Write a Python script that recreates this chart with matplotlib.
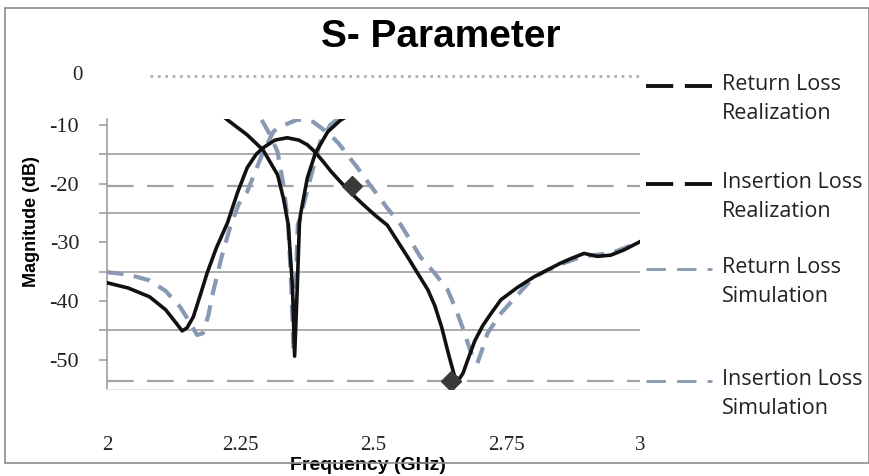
import matplotlib
matplotlib.use("Agg")
import matplotlib.pyplot as plt
from matplotlib.lines import Line2D
from matplotlib.patches import Rectangle

plt.rcParams['axes.unicode_minus'] = False

# ---------------- data ----------------
# Insertion loss, realization (black solid)
il_real_f = [2.00, 2.04, 2.08, 2.11, 2.13, 2.141, 2.15, 2.162, 2.175, 2.188, 2.205, 2.226,
             2.245, 2.263, 2.28, 2.293, 2.315, 2.338, 2.36, 2.376, 2.39, 2.406, 2.42, 2.438,
             2.46, 2.481, 2.503, 2.526, 2.545, 2.564, 2.583, 2.602, 2.615, 2.628, 2.640,
             2.652, 2.660, 2.668, 2.677, 2.69, 2.705, 2.72, 2.739, 2.77, 2.801, 2.85, 2.87,
             2.895, 2.92, 2.945, 2.97, 3.00]
il_real_db = [-36.9, -37.8, -39.3, -41.5, -43.8, -45.1, -44.6, -42.7, -39.0, -35.2, -31.0, -26.7,
              -21.5, -17.3, -15.0, -13.9, -12.6, -12.2, -12.6, -13.4, -14.6, -16.3, -17.9, -19.7,
              -21.8, -23.6, -25.4, -27.1, -29.8, -32.5, -35.3, -38.1, -40.8, -44.5, -48.8,
              -52.8, -53.4, -52.3, -50.0, -46.8, -44.2, -42.2, -39.8, -37.7, -35.9, -33.6, -32.8,
              -31.9, -32.4, -32.2, -31.3, -29.9]

# Return loss, realization (black solid)
rl_real_f = [2.00, 2.10, 2.18, 2.21, 2.231, 2.263, 2.293, 2.320, 2.331, 2.340, 2.348, 2.352,
             2.357, 2.361, 2.363, 2.376, 2.391, 2.414, 2.438, 2.50, 2.60, 2.80, 3.00]
rl_real_db = [-3.0, -4.0, -6.0, -8.0, -9.5, -11.7, -14.3, -18.5, -22.5, -27.0, -37.6, -49.4,
              -37.6, -26.8, -25.3, -19.0, -14.8, -11.2, -9.2, -6.0, -5.0, -4.5, -4.0]

# Insertion loss, simulation (blue-grey dashed)
il_sim_f = [2.00, 2.04, 2.08, 2.11, 2.137, 2.155, 2.169, 2.18, 2.19, 2.199, 2.215, 2.231,
            2.247, 2.263, 2.293, 2.312, 2.32, 2.357, 2.387, 2.419, 2.435, 2.451, 2.47, 2.489,
            2.508, 2.526, 2.551, 2.57, 2.588, 2.615, 2.639, 2.655, 2.669, 2.68, 2.688, 2.695,
            2.703, 2.714, 2.74, 2.767, 2.79, 2.814, 2.85, 2.889, 2.92, 2.945, 2.97, 3.00]
il_sim_db = [-35.1, -35.5, -36.5, -38.3, -41.0, -43.6, -45.8, -45.5, -42.5, -38.5, -32.5, -27.4,
             -23.5, -21.4, -14.6, -11.2, -10.5, -9.1, -9.5, -11.7, -13.2, -15.1, -17.3, -19.7,
             -22.0, -24.2, -27.0, -29.8, -32.5, -35.3, -38.1, -41.5, -45.0, -48.0, -50.0, -50.6,
             -48.5, -45.5, -42.0, -39.3, -37.0, -35.3, -33.8, -32.5, -32.1, -31.9, -31.0, -29.9]

# Return loss, simulation (blue-grey dashed)
rl_sim_f = [2.00, 2.10, 2.20, 2.26, 2.288, 2.306, 2.32, 2.331, 2.340, 2.346, 2.350, 2.354,
            2.358, 2.362, 2.382, 2.40, 2.419, 2.44, 2.50, 2.60, 2.80, 3.00]
rl_sim_db = [-2.0, -3.0, -5.0, -7.5, -8.8, -11.7, -14.6, -20.2, -27.0, -38.0, -48.5, -38.0,
             -27.0, -26.0, -19.0, -12.9, -10.0, -8.5, -6.5, -5.0, -4.5, -4.0]

# Marker / reference levels
marker_f = [2.46, 2.645]
marker_db = [-20.5, -53.7]

x_ticks = [2, 2.25, 2.5, 2.75, 3]
x_tick_labels = ["2", "2.25", "2.5", "2.75", "3"]
y_ticks = [-10, -20, -30, -40, -50]
y_tick_labels = ["-10", "-20", "-30", "-40", "-50"]
grid_levels = [-15, -25, -35, -45]

legend_labels = ["Return Loss\nRealization", "Insertion Loss\nRealization",
                 "Return Loss\nSimulation", "Insertion Loss\nSimulation"]

# ---------------- figure ----------------
W, H = 870, 476
fig = plt.figure(figsize=(W / 100, H / 100), dpi=100)
ax = fig.add_axes([107 / W, 1 - 389 / H, (640 - 107) / W, (389 - 119) / H])

black = "#111111"
blue = "#8799B3"
grey = "#a3a3a3"

ax.set_xlim(2, 3)
ax.set_ylim(-55, -9)

for g in grid_levels:
    ax.axhline(g, color="#a6a6a6", lw=1.3, zorder=1)
for lv in marker_db:
    ax.axhline(lv, color=grey, lw=1.6, ls=(0, (12, 6)), zorder=1)

ax.plot(il_real_f, il_real_db, color=black, lw=2.6, zorder=4, solid_joinstyle="round")
ax.plot(rl_real_f, rl_real_db, color=black, lw=2.6, zorder=4, solid_joinstyle="round")
ax.plot(il_sim_f, il_sim_db, color=blue, lw=3.0, ls=(0, (4, 2.5)), zorder=3)
ax.plot(rl_sim_f, rl_sim_db, color=blue, lw=3.0, ls=(0, (4, 2.5)), zorder=3)

ax.plot(marker_f, marker_db, ls="none", marker="D", ms=10, color="#3a3a3a", zorder=5)

# axes styling
for s in ["top", "right"]:
    ax.spines[s].set_visible(False)
ax.spines["left"].set_color("#a0a0a0")
ax.spines["left"].set_linewidth(1.2)
ax.spines["bottom"].set_color("#e6e6e6")

ax.set_xticks(x_ticks)
ax.set_xticklabels(x_tick_labels, family="Liberation Serif", fontsize=15, color="#222222")
ax.set_yticks(y_ticks)
ax.set_yticklabels(y_tick_labels, family="Liberation Serif", fontsize=16, color="#222222")
ax.set_yticks(grid_levels, minor=True)
ax.tick_params(axis="x", length=0, pad=34)
ax.tick_params(axis="y", which="both", length=6, width=1.2, color="#a0a0a0", pad=14)

# "0" label above the plot area, with the dotted 0 dB row
ax.text(-0.045, 1.16, "0", transform=ax.transAxes, ha="right", va="center",
        family="Liberation Serif", fontsize=15, color="#222222")
ax.plot([2.08, 3.0], [-1.6, -1.6], ls=":", lw=2, color="#b0b0b0", clip_on=False)

ax.set_xlabel("Frequency (GHz)", family="Liberation Sans", fontweight="bold", fontsize=14)
ax.xaxis.set_label_coords(0.49, -0.252)
ax.set_ylabel("Magnitude (dB)", family="Liberation Sans", fontweight="bold", fontsize=13)
ax.yaxis.set_label_coords(-0.125, 0.62)

fig.text(441 / W, 1 - 37 / H, "S- Parameter", ha="center", va="center",
         family="Liberation Sans", fontweight="bold", fontsize=28)

# legend (drawn entry by entry, handle level with the first text line)
legend_styles = [
    dict(color=black, lw=2.8, ls=(0, (7, 3))),
    dict(color=black, lw=2.8, ls=(0, (7, 3))),
    dict(color=blue, lw=2.0, ls=(0, (7, 4))),
    dict(color=blue, lw=2.0, ls=(0, (7, 4))),
]
legend_rows = [86, 184, 269, 381]
for lab, sty, row in zip(legend_labels, legend_styles, legend_rows):
    yf = 1 - row / H
    fig.add_artist(Line2D([646 / W, 712 / W], [yf, yf], transform=fig.transFigure, **sty))
    fig.text(722 / W, yf + 12 / H, lab, ha="left", va="top", family="Open Sans",
             fontsize=15.5, color="#222222", linespacing=1.5)

# outer frame
fig.patches.append(Rectangle((5 / W, 1 - 463 / H), 864 / W, (463 - 8) / H,
                             transform=fig.transFigure, fill=False,
                             edgecolor="#8c8c8c", lw=1.2))

fig.savefig("out.png", dpi=100)
